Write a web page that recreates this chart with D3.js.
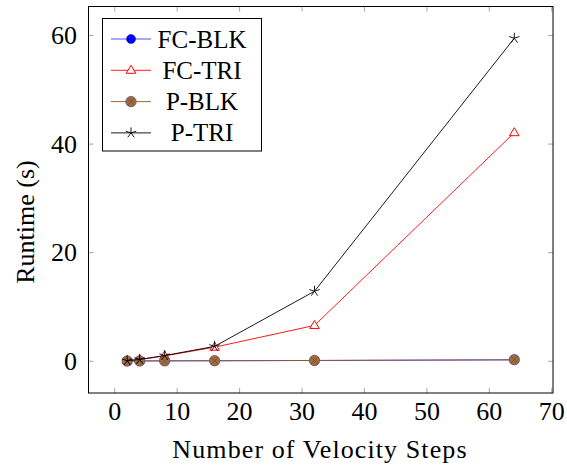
<!DOCTYPE html>
<html>
<head>
<meta charset="utf-8">
<script src="https://cdn.jsdelivr.net/npm/d3@7/dist/d3.min.js"></script>
<style>
  body { margin: 0; background: #fff; }
  svg { display: block; font-family: "Liberation Serif", "DejaVu Serif", serif; }
</style>
</head>
<body>
<svg></svg>
<script>
/** Chart data */
let steps = [2, 4, 8, 16, 32, 64];
let fcBlk = [0.05, 0.06, 0.08, 0.1, 0.15, 0.25];
let fcTri = [0.1, 0.3, 1.0, 2.6, 6.6, 42.1];
let pBlk = [0.05, 0.06, 0.08, 0.1, 0.15, 0.3];
let pTri = [0.1, 0.35, 1.05, 2.75, 12.9, 59.5];

let seriesNames = ['FC-BLK', 'FC-TRI', 'P-BLK', 'P-TRI'];
let xTicks = [0, 10, 20, 30, 40, 50, 60, 70];
let yTicks = [0, 20, 40, 60];

let width = 567;
let height = 468;
let plotLeft = 88.5, plotRight = 553, plotTop = 6.5, plotBottom = 393;

let svg = d3.select('svg').attr('width', width).attr('height', height);

let xScale = d3.scaleLinear().domain([-4.2, 70.2]).range([plotLeft, plotRight]);
let yScale = d3.scaleLinear().domain([-5.84, 65.34]).range([plotBottom, plotTop]);

/** marker drawers: each one appends a mark at (px, py) */
const star = (g, px, py) => {
    let r = 5.5;
    let p = '';
    [90, 18, -54, -126, 162].forEach(a => {
        let t = a * Math.PI / 180;
        p += `M${px},${py}L${px + r * Math.cos(t)},${py - r * Math.sin(t)}`;
    });
    g.append('path').attr('d', p).attr('stroke', '#000').attr('stroke-width', 0.9).attr('fill', 'none');
};

const triangle = (g, px, py) => {
    let s = 5;
    g.append('path')
        .attr('d', `M${px},${py - s}L${px + s * 0.95},${py + s * 0.6}L${px - s * 0.95},${py + s * 0.6}Z`)
        .attr('fill', '#fff').attr('stroke', '#ff0000').attr('stroke-width', 1);
};

const dot = (g, px, py) => {
    g.append('circle').attr('cx', px).attr('cy', py).attr('r', 4.5)
        .attr('fill', '#0000ff').attr('stroke', '#0000cc').attr('stroke-width', 0.5);
};

const otimes = (g, px, py) => {
    let r = 5.2;
    g.append('circle').attr('cx', px).attr('cy', py).attr('r', r)
        .attr('fill', '#a06c3a').attr('stroke', '#6a4a8a').attr('stroke-width', 0.8);
    let d = r * 0.7;
    g.append('path')
        .attr('d', `M${px - d},${py - d}L${px + d},${py + d}M${px - d},${py + d}L${px + d},${py - d}`)
        .attr('stroke', '#6b4a2a').attr('stroke-width', 0.7);
};

let series = [
    { name: seriesNames[0], values: fcBlk, color: '#3a3aff', mark: dot },
    { name: seriesNames[1], values: fcTri, color: '#ff0000', mark: triangle },
    { name: seriesNames[2], values: pBlk, color: '#8a5a2e', mark: otimes },
    { name: seriesNames[3], values: pTri, color: '#000000', mark: star }
];

/** ticks (gray, inward, on all four sides) */
let tickG = svg.append('g').attr('stroke', '#9a9a9a').attr('stroke-width', 0.9);
xTicks.forEach(t => {
    let px = xScale(t);
    tickG.append('line').attr('x1', px).attr('x2', px).attr('y1', plotBottom).attr('y2', plotBottom - 5);
    tickG.append('line').attr('x1', px).attr('x2', px).attr('y1', plotTop).attr('y2', plotTop + 5);
});
yTicks.forEach(t => {
    let py = yScale(t);
    tickG.append('line').attr('y1', py).attr('y2', py).attr('x1', plotLeft).attr('x2', plotLeft + 5);
    tickG.append('line').attr('y1', py).attr('y2', py).attr('x1', plotRight).attr('x2', plotRight - 5);
});

/** lines and marks */
let line = d3.line().x(d => xScale(d[0])).y(d => yScale(d[1]));
series.forEach(s => {
    let pts = steps.map((x, i) => [x, s.values[i]]);
    svg.append('path').datum(pts).attr('d', line)
        .attr('fill', 'none').attr('stroke', s.color).attr('stroke-width', 0.9);
    let g = svg.append('g');
    pts.forEach(p => s.mark(g, xScale(p[0]), yScale(p[1])));
});

/** frame */
svg.append('rect').attr('x', plotLeft).attr('y', plotTop)
    .attr('width', plotRight - plotLeft).attr('height', plotBottom - plotTop)
    .attr('fill', 'none').attr('stroke', '#000').attr('stroke-width', 1);

/** tick labels */
svg.append('g').selectAll('text').data(xTicks).enter().append('text')
    .attr('x', d => xScale(d)).attr('y', 420)
    .attr('text-anchor', 'middle').attr('font-size', 26)
    .text(d => d);
svg.append('g').selectAll('text').data(yTicks).enter().append('text')
    .attr('x', 77).attr('y', d => yScale(d) + 8.5)
    .attr('text-anchor', 'end').attr('font-size', 26)
    .text(d => d);

/** axis titles */
svg.append('text').attr('x', 320).attr('y', 458)
    .attr('text-anchor', 'middle').attr('font-size', 26)
    .attr('letter-spacing', 1.1)
    .text('Number of Velocity Steps');
svg.append('text')
    .attr('transform', `translate(34, 222) rotate(-90)`)
    .attr('text-anchor', 'middle').attr('font-size', 26)
    .text('Runtime (s)');

/** legend */
let lg = svg.append('g');
lg.append('rect').attr('x', 102.5).attr('y', 18.5).attr('width', 159).attr('height', 132.5)
    .attr('fill', '#fff').attr('stroke', '#000').attr('stroke-width', 1);
series.forEach((s, i) => {
    let cy = 39 + i * 31.3;
    lg.append('line').attr('x1', 111).attr('x2', 151).attr('y1', cy).attr('y2', cy)
        .attr('stroke', s.color).attr('stroke-width', 0.9);
    s.mark(lg, 131, cy);
    lg.append('text').attr('x', 202).attr('y', cy + 8.5)
        .attr('text-anchor', 'middle').attr('font-size', 25)
        .text(s.name);
});
</script>
</body>
</html>
